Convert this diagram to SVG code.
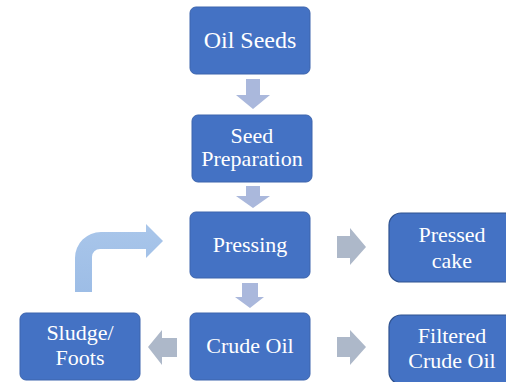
<svg xmlns="http://www.w3.org/2000/svg" width="506" height="382" viewBox="0 0 506 382">
<defs>
<linearGradient id="bend" x1="0" y1="0" x2="0" y2="1">
<stop offset="0" stop-color="#a9c6ea"/>
<stop offset="1" stop-color="#9dbde6"/>
</linearGradient>
</defs>
<style>
.box{fill:#4472c4;stroke:#3c64ad;stroke-width:1}
.side{fill:#4472c4;stroke:#2f528f;stroke-width:1.2}
.t{font-family:"Liberation Serif","Times New Roman",serif;font-size:22px;fill:#ffffff;text-anchor:middle}
.down{fill:#aab8dc}
.gray{fill:#adb8c9}
</style>
<rect width="506" height="382" fill="#ffffff"/>
<g id="connectors">
<path class="down" d="M246,79 H260 V95 H270 L253,109 L236,95 H246 Z"/>
<path class="down" d="M246,186 H260 V196 H270 L253,208 L236,196 H246 Z"/>
<path class="down" d="M242,283 H258 V297 H264 L250,308 L235,297 H242 Z"/>
<path class="gray" d="M337,236 H350 V228 L366,247 L350,265 V258 H337 Z"/>
<path class="gray" d="M337,337 H350 V330 L366,347 L350,365 V357 H337 Z"/>
<path class="gray" d="M177,338 H162 V330 L148,347 L162,365 V357 H177 Z"/>
<path fill="url(#bend)" d="M75,292 V258 A26,26 0 0 1 101,232 H146 V224 L163,241 L146,258 V249 H100 A8,8 0 0 0 92,257 V292 Z"/>
</g>
<g id="oil-seeds">
<rect class="box" x="190" y="7" width="120" height="67" rx="6"/>
<text class="t" x="250" y="48" style="font-size:24px">Oil Seeds</text>
</g>
<g id="seed-preparation">
<rect class="box" x="192" y="115" width="120" height="67" rx="6"/>
<text class="t" x="252" y="143">Seed</text>
<text class="t" x="252" y="166">Preparation</text>
</g>
<g id="pressing">
<rect class="box" x="190" y="212" width="120" height="66" rx="6"/>
<text class="t" x="250" y="252">Pressing</text>
</g>
<g id="crude-oil">
<rect class="box" x="190" y="313" width="120" height="67" rx="6"/>
<text class="t" x="250" y="353">Crude Oil</text>
</g>
<g id="sludge-foots">
<rect class="box" x="20" y="313" width="120" height="67" rx="6"/>
<text class="t" x="80" y="340">Sludge/</text>
<text class="t" x="80" y="365">Foots</text>
</g>
<g id="pressed-cake">
<rect class="side" x="389" y="213" width="127" height="69" rx="12"/>
<text class="t" x="452" y="242">Pressed</text>
<text class="t" x="452" y="268">cake</text>
</g>
<g id="filtered-crude-oil">
<rect class="side" x="389" y="315" width="127" height="69" rx="12"/>
<text class="t" x="452" y="343">Filtered</text>
<text class="t" x="452" y="368">Crude Oil</text>
</g>
</svg>
